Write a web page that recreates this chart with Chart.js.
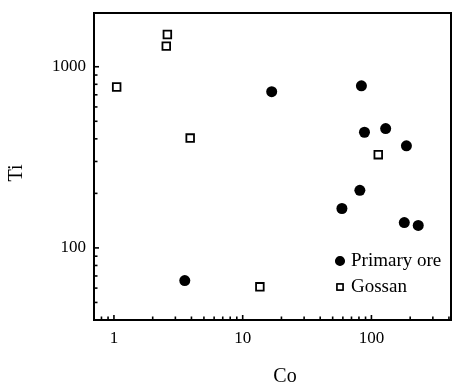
<!DOCTYPE html>
<html><head><meta charset="utf-8">
<script src="https://cdn.jsdelivr.net/npm/chart.js@4"></script>
<style>html,body{margin:0;padding:0;background:#fff}canvas{display:block}</style>
</head><body>
<canvas id="c" width="453" height="386" style="width:453px;height:386px"></canvas>
<script>
const seriesNames = ['Primary ore', 'Gossan'];
const primaryCo = [3.55, 16.8, 83.6, 88.3, 129, 187, 81.3, 59, 180, 231];
const primaryTi = [66, 728, 785, 435, 456, 366, 208, 165, 138, 133];
const gossanCo = [1.05, 2.55, 2.6, 3.91, 13.6, 113];
const gossanTi = [773, 1300, 1507, 404, 61, 327];
const xTickLabels = [1, 10, 100];
const yTickLabels = [100, 1000];
const xTitle = 'Co';
const yTitle = 'Ti';

const FONT = "'Liberation Serif', 'DejaVu Serif', serif";

function pts(xs, ys) { return xs.map((x, i) => ({x: x, y: ys[i]})); }

function isLogTick(v) {
  const p = Math.pow(10, Math.floor(Math.log10(v) + 1e-9));
  const m = v / p;
  return Math.abs(m - Math.round(m)) < 1e-6;
}

const decor = {
  id: 'decor',
  afterDraw(chart) {
    const ctx = chart.ctx, a = chart.chartArea;
    ctx.save();
    ctx.strokeStyle = '#000';
    ctx.lineWidth = 2;
    ctx.strokeRect(a.left, a.top, a.right - a.left, a.bottom - a.top);
    // inward ticks
    ctx.lineWidth = 1.6;
    const xs = chart.scales.x, ys = chart.scales.y;
    xs.ticks.forEach(t => {
      if (!isLogTick(t.value)) return;
      const px = xs.getPixelForValue(t.value);
      if (px <= a.left + 2 || px >= a.right - 2) return;
      const len = xTickLabels.includes(t.value) ? 5 : 3.5;
      ctx.beginPath(); ctx.moveTo(px, a.bottom); ctx.lineTo(px, a.bottom - len); ctx.stroke();
    });
    ys.ticks.forEach(t => {
      if (!isLogTick(t.value)) return;
      const py = ys.getPixelForValue(t.value);
      if (py <= a.top + 2 || py >= a.bottom - 2) return;
      const len = yTickLabels.includes(t.value) ? 5 : 3.5;
      ctx.beginPath(); ctx.moveTo(a.left, py); ctx.lineTo(a.left + len, py); ctx.stroke();
    });
    // legend (inside plot area, lower right)
    const lx = 340, ly = [261, 287], lr = [4.3, 4.2];
    chart.data.datasets.forEach((ds, i) => {
      ctx.save();
      ctx.fillStyle = ds.backgroundColor;
      ctx.strokeStyle = ds.borderColor;
      ctx.lineWidth = 1.5;
      Chart.helpers.drawPoint(ctx, {pointStyle: ds.pointStyle, rotation: 0, borderWidth: 1.5, radius: lr[i]}, lx, ly[i]);
      ctx.fill();
      if (ds.borderWidth) ctx.stroke();
      ctx.restore();
      ctx.font = '19px ' + FONT;
      ctx.fillStyle = '#000';
      ctx.textAlign = 'left';
      ctx.textBaseline = 'middle';
      ctx.fillText(ds.label, 351, ly[i]);
    });
    // axis titles
    ctx.font = '20px ' + FONT;
    ctx.fillStyle = '#000';
    ctx.textAlign = 'center';
    ctx.textBaseline = 'middle';
    ctx.fillText(xTitle, 285, 377);
    ctx.translate(17, 173);
    ctx.rotate(-Math.PI / 2);
    ctx.fillText(yTitle, 0, 0);
    ctx.restore();
  }
};

function zeroPad(s) { s.paddingLeft = 0; s.paddingRight = 0; s.paddingTop = 0; s.paddingBottom = 0; }

new Chart(document.getElementById('c'), {
  type: 'scatter',
  data: {
    datasets: [
      {label: seriesNames[0], data: pts(primaryCo, primaryTi), pointStyle: 'circle',
       pointRadius: 5.5, backgroundColor: '#000', borderColor: '#000', borderWidth: 0},
      {label: seriesNames[1], data: pts(gossanCo, gossanTi), pointStyle: 'rect',
       pointRadius: 5.4, backgroundColor: '#fff', borderColor: '#000', borderWidth: 1.8}
    ]
  },
  options: {
    responsive: false,
    animation: false,
    events: [],
    layout: {autoPadding: false, padding: {top: 13, right: 2, left: 0, bottom: 0}},
    plugins: {legend: {display: false}, tooltip: {enabled: false}},
    scales: {
      x: {
        type: 'logarithmic', min: 0.7, max: 415,
        grid: {display: false, drawTicks: false},
        border: {display: true, color: '#000', width: 2},
        ticks: {
          autoSkip: false, maxRotation: 0, minRotation: 0, padding: 8, color: '#000',
          font: {family: FONT, size: 17},
          callback: v => xTickLabels.includes(v) ? String(v) : ''
        },
        afterFit: s => { s.height = 66; zeroPad(s); }
      },
      y: {
        type: 'logarithmic', min: 40, max: 1980,
        grid: {display: false, drawTicks: false},
        border: {display: true, color: '#000', width: 2},
        ticks: {
          autoSkip: false, padding: 8, color: '#000',
          font: {family: FONT, size: 17},
          callback: v => yTickLabels.includes(v) ? String(v) : ''
        },
        afterFit: s => { s.width = 94; zeroPad(s); }
      }
    }
  },
  plugins: [decor]
});
</script>
</body></html>
